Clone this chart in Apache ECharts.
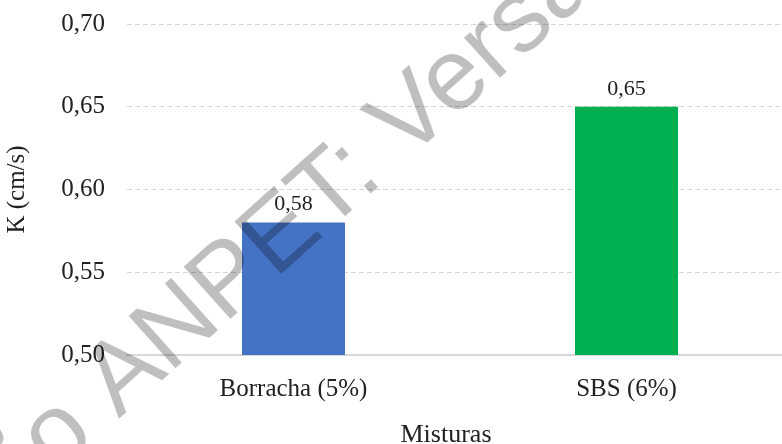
<!DOCTYPE html>
<html>
<head>
<meta charset="utf-8">
<style>
  html, body { margin: 0; padding: 0; background: #fff; }
  #chart { width: 782px; height: 444px; }
</style>
</head>
<body>
<div id="chart"></div>
<script src="https://cdn.jsdelivr.net/npm/echarts@6/dist/echarts.min.js"></script>
<script>
var categories = ['Borracha (5%)', 'SBS (6%)'];
var kValues = [0.58, 0.65];
var yTicks = [0.50, 0.55, 0.60, 0.65, 0.70];

// bar colours (Excel blue / green)
var barColors = ['#4472C4', '#00B050'];

function comma(v, d) {
    return Number(v).toFixed(d).replace('.', ',');
}

var chart = echarts.init(document.getElementById('chart'));

var wmStyle = {
    fontSize: 102,
    fontFamily: '"Liberation Sans", Arial, sans-serif',
    fill: 'rgba(0,0,0,0.25)',
    verticalAlign: 'bottom'
};

var option = {
    animation: false,
    backgroundColor: '#fff',
    textStyle: { fontFamily: '"Liberation Serif", "DejaVu Serif", serif' },
    grid: { left: 127, top: 24, width: 666, height: 331, containLabel: false, outerBoundsMode: 'none' },
    xAxis: {
        type: 'category',
        data: categories,
        name: 'Misturas',
        nameLocation: 'middle',
        nameGap: 67,
        nameTextStyle: { fontSize: 26, color: '#222', padding: [0, 28, 0, 0] },
        axisLine: { lineStyle: { color: '#d0d0d0', width: 1.5 } },
        axisTick: { show: false },
        axisLabel: { fontSize: 25, color: '#222', margin: 22 }
    },
    yAxis: {
        type: 'value',
        min: yTicks[0],
        max: yTicks[yTicks.length - 1],
        interval: 0.05,
        name: 'K (cm/s)',
        nameLocation: 'middle',
        nameGap: 97,
        nameTextStyle: { fontSize: 25, color: '#222' },
        axisLine: { show: false },
        axisTick: { show: false },
        axisLabel: {
            fontSize: 25, color: '#222', margin: 22,
            formatter: function (v) { return comma(v, 2); }
        },
        splitLine: { lineStyle: { color: '#d4d4d4', type: [5, 3], width: 1 } }
    },
    series: [{
        type: 'bar',
        barWidth: 103,
        data: kValues.map(function (v, i) {
            return { value: v, itemStyle: { color: barColors[i] } };
        }),
        label: {
            show: true,
            position: 'top',
            distance: 7,
            fontSize: 22,
            color: '#222',
            formatter: function (p) { return comma(p.value, 2); }
        }
    }],
    graphic: [
        {
            type: 'text', x: 400, y: 198, rotation: 0.73, z: 100, silent: true,
            style: Object.assign({ text: 'ão ANPET:', align: 'right' }, wmStyle)
        },
        {
            type: 'text', x: 400, y: 198, rotation: 0.73, z: 100, silent: true,
            style: Object.assign({ text: ' Versão', align: 'left' }, wmStyle)
        }
    ]
};

chart.setOption(option);
</script>
</body>
</html>
